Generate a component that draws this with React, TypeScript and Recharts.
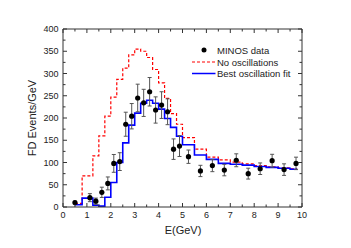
import React from 'react';
import { ComposedChart, Line, Scatter, XAxis, YAxis, ErrorBar, Legend } from 'recharts';

// Histogram bin edges (GeV) shared by both predictions
const binEdges = [0.5, 0.8, 1.25, 1.5, 1.75, 2.0, 2.25, 2.5, 2.75, 3.0, 3.25, 3.5, 3.75, 4.0, 4.25, 4.5, 4.75, 5.0, 5.5, 6.0, 6.5, 7.0, 7.5, 8.0, 8.5, 9.0, 9.5, 9.8];
// No oscillations prediction (events/GeV per bin)
const noOscValues = [8, 70, 115, 160, 204, 247, 287, 312, 342, 355, 350, 336, 309, 279, 244, 210, 186, 156, 130, 112, 106, 101, 97, 93, 90, 88, 86];
// Best oscillation fit (events/GeV per bin)
const bestFitValues = [5, 20, 4, 2, 22, 55, 100, 144, 184, 211, 233, 240, 233, 220, 199, 179, 159, 140, 117, 107, 98, 96, 94, 91, 89, 87, 85];

// MINOS data points
const dataEnergy = [0.5, 1.125, 1.375, 1.625, 1.875, 2.125, 2.375, 2.625, 2.875, 3.125, 3.375, 3.625, 3.875, 4.125, 4.375, 4.625, 4.875, 5.25, 5.75, 6.25, 6.75, 7.25, 7.75, 8.25, 8.75, 9.25, 9.75];
const dataEvents = [10, 21, 13, 33, 53, 98, 102, 186, 204, 245, 234, 259, 218, 229, 214, 130, 137, 113, 81, 93, 83, 105, 75, 86, 104, 84, 98];
const dataErrors = [3, 9, 7, 11.5, 14.5, 20, 20, 27, 28.5, 31, 30.5, 32, 29.5, 30, 29, 23, 23.5, 15, 12.7, 13.6, 12.9, 14.5, 12.2, 13, 14.4, 13, 14];

// Axis ticks
const xTicks = [0, 0.5, 1, 1.5, 2, 2.5, 3, 3.5, 4, 4.5, 5, 5.5, 6, 6.5, 7, 7.5, 8, 8.5, 9, 9.5, 10];
const yTicks = [0, 25, 50, 75, 100, 125, 150, 175, 200, 225, 250, 275, 300, 325, 350, 375, 400];

const toSteps = (values: number[]) =>
  binEdges.map((e, i) => ({ x: e, y: values[Math.min(i, values.length - 1)] }));

const noOscSteps = toSteps(noOscValues);
const bestFitSteps = toSteps(bestFitValues);
const points = dataEnergy.map((e, i) => ({ x: e, y: dataEvents[i], err: dataErrors[i] }));

const AXIS = '#333';
const FONT = '"Liberation Sans", Arial, sans-serif';

const BottomTick = (props: any) => {
  const { x, y, payload } = props;
  const v = payload.value;
  const major = Number.isInteger(v);
  return (
    <g>
      <line x1={x} x2={x} y1={y} y2={y - (major ? 4 : 2.5)} stroke={AXIS} />
      {major && (
        <text x={x} y={y + 11} textAnchor="middle" fontSize={9} fill="#222" fontFamily={FONT}>
          {v}
        </text>
      )}
    </g>
  );
};

const TopTick = (props: any) => {
  const { x, y, payload } = props;
  const major = Number.isInteger(payload.value);
  return <line x1={x} x2={x} y1={y} y2={y + (major ? 4 : 2.5)} stroke={AXIS} />;
};

const LeftTick = (props: any) => {
  const { x, y, payload } = props;
  const v = payload.value;
  const major = v % 50 === 0;
  return (
    <g>
      <line x1={x} x2={x + (major ? 4 : 2.5)} y1={y} y2={y} stroke={AXIS} />
      {major && (
        <text x={x - 4.5} y={y + 3.2} textAnchor="end" fontSize={9} fill="#222" fontFamily={FONT}>
          {v}
        </text>
      )}
    </g>
  );
};

const RightTick = (props: any) => {
  const { x, y, payload } = props;
  const major = payload.value % 50 === 0;
  return <line x1={x} x2={x - (major ? 4 : 2.5)} y1={y} y2={y} stroke={AXIS} />;
};

const XTitle = () => (
  <text x={183} y={234} textAnchor="middle" fontSize={11} fill="#222" fontFamily={FONT}>
    E(GeV)
  </text>
);

const YTitle = () => (
  <text x={36} y={118} transform="rotate(-90 36 118)" textAnchor="middle" fontSize={11} fill="#222" fontFamily={FONT}>
    FD Events/GeV
  </text>
);

const LegendBox = () => (
  <svg width={115} height={40} style={{ display: 'block', fontFamily: FONT }}>
    <circle cx={16} cy={8} r={2.5} fill="#000" />
    <text x={29} y={11.5} fontSize={9.5} fill="#222">MINOS data</text>
    <line x1={4} x2={27.5} y1={20} y2={20} stroke="#ff0000" strokeWidth={1.2} strokeDasharray="3 2" />
    <text x={29} y={23.5} fontSize={9.5} fill="#222">No oscillations</text>
    <line x1={4} x2={27.5} y1={31.5} y2={31.5} stroke="#0000ff" strokeWidth={1.5} />
    <text x={29} y={35} fontSize={9.5} fill="#222">Best oscillation fit</text>
  </svg>
);

const Dot = (p: any) => <circle cx={p.cx} cy={p.cy} r={2.6} fill="#000" />;

export default function App() {
  return (
    <div style={{ position: 'absolute', left: 0, top: 0, background: '#fff' }}>
      <ComposedChart
        width={351}
        height={248}
        margin={{ top: 28, right: 48, bottom: 0, left: 0 }}
        style={{ fontFamily: FONT }}
      >
        <XAxis
          dataKey="x"
          type="number"
          domain={[0, 10]}
          ticks={xTicks}
          interval={0}
          tickSize={0}
          tickMargin={0}
          tickLine={false}
          tick={<BottomTick />}
          axisLine={{ stroke: AXIS }}
          height={41}
          allowDataOverflow
          label={<XTitle />}
        />
        <XAxis
          xAxisId="top"
          orientation="top"
          dataKey="x"
          type="number"
          domain={[0, 10]}
          ticks={xTicks}
          interval={0}
          tickSize={0}
          tickMargin={0}
          tickLine={false}
          tick={<TopTick />}
          axisLine={{ stroke: AXIS }}
          height={1}
          allowDataOverflow
        />
        <YAxis
          type="number"
          domain={[0, 400]}
          ticks={yTicks}
          interval={0}
          tickSize={0}
          tickMargin={0}
          tickLine={false}
          tick={<LeftTick />}
          axisLine={{ stroke: AXIS }}
          width={63}
          allowDataOverflow
          label={<YTitle />}
        />
        <YAxis
          yAxisId="right"
          orientation="right"
          type="number"
          domain={[0, 400]}
          ticks={yTicks}
          interval={0}
          tickSize={0}
          tickMargin={0}
          tickLine={false}
          tick={<RightTick />}
          axisLine={{ stroke: AXIS }}
          width={1}
          allowDataOverflow
        />
        <Legend
          layout="horizontal"
          verticalAlign="middle"
          align="center"
          content={() => <LegendBox />}
          wrapperStyle={{ position: 'absolute', left: 188, top: 42, width: 115, height: 40 }}
        />
        <Line
          data={noOscSteps}
          xAxisId="top"
          yAxisId="right"
          dataKey="y"
          type="stepAfter"
          stroke="none"
          dot={false}
          activeDot={false}
          isAnimationActive={false}
          legendType="none"
        />
        <Line
          data={noOscSteps}
          dataKey="y"
          type="stepAfter"
          stroke="#ff0000"
          strokeWidth={1.2}
          strokeDasharray="3 2"
          dot={false}
          activeDot={false}
          isAnimationActive={false}
        />
        <Line
          data={bestFitSteps}
          dataKey="y"
          type="stepAfter"
          stroke="#0000ff"
          strokeWidth={1.6}
          dot={false}
          activeDot={false}
          isAnimationActive={false}
        />
        <Scatter data={points} dataKey="y" shape={<Dot />} fill="#000" isAnimationActive={false}>
          <ErrorBar dataKey="err" direction="y" width={2} stroke="#555" strokeWidth={1} />
        </Scatter>
      </ComposedChart>
    </div>
  );
}
